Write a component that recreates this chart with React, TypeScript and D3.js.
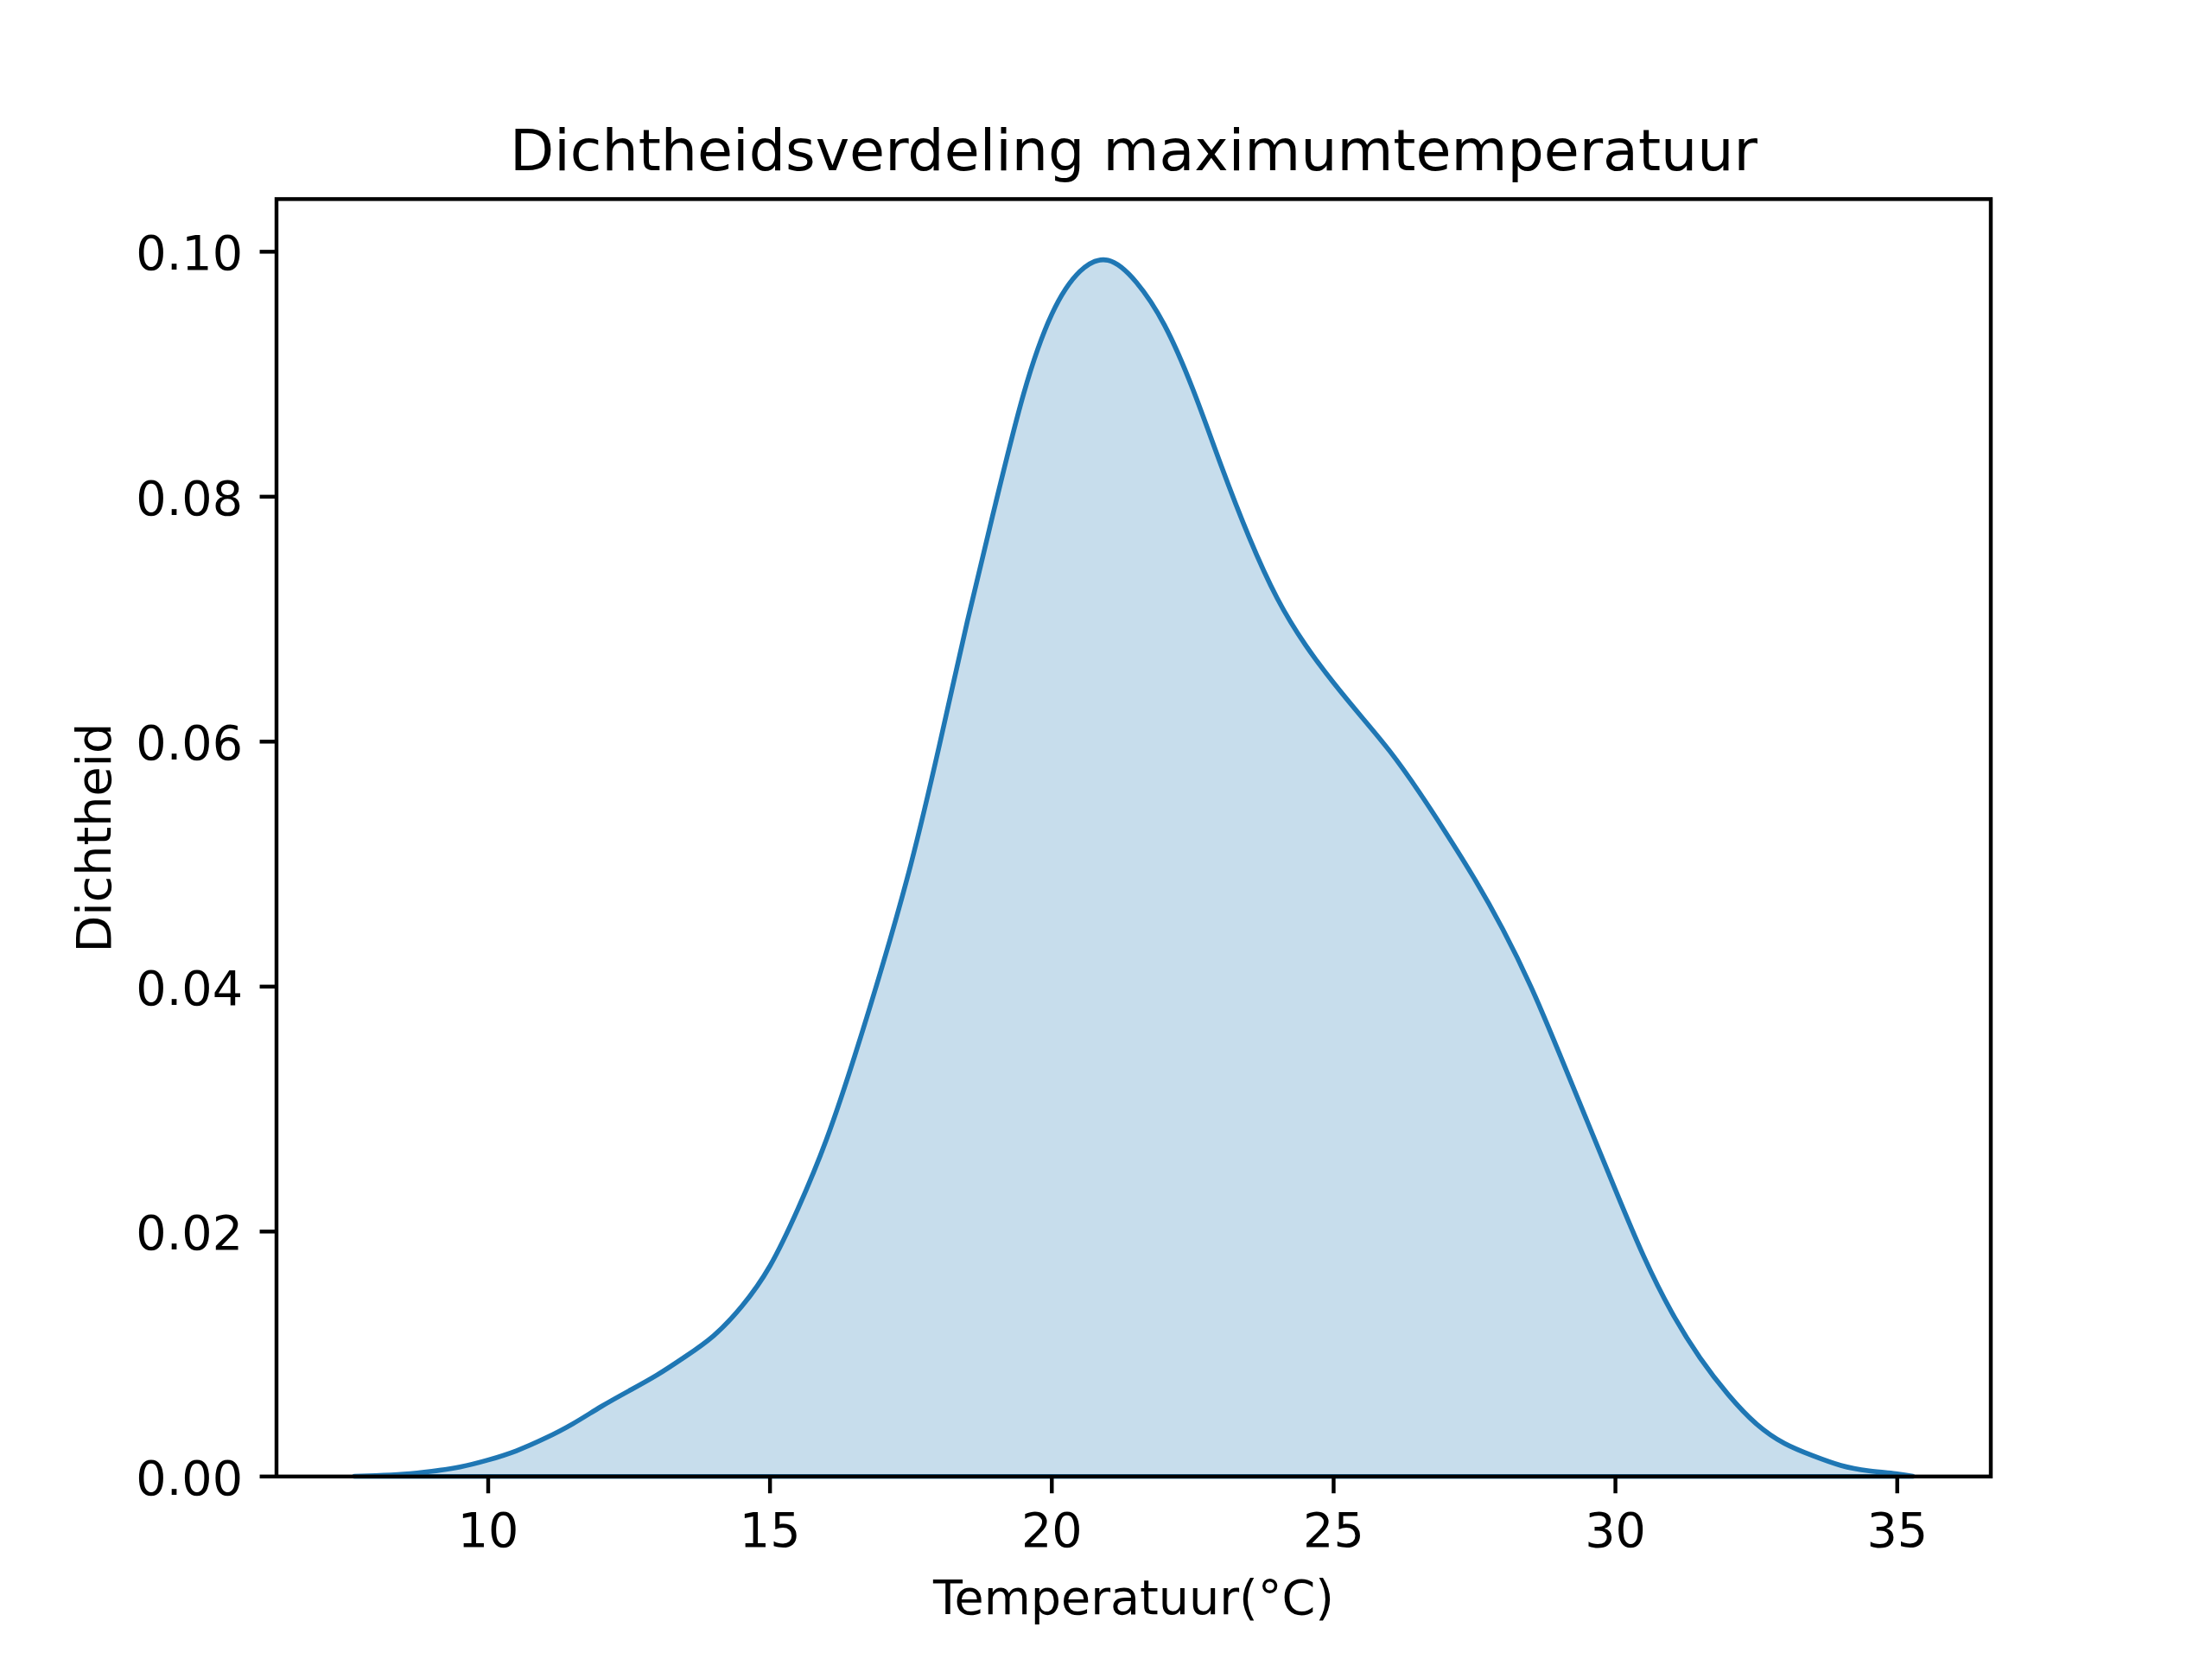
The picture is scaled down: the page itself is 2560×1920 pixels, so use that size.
import React from "react";
import * as d3 from "d3";

// Kernel density curve (temperature °C -> density)
const temps = [
  7.627, 8.0, 8.5, 9.0, 9.5, 10.0, 10.5, 11.0, 11.5, 12.0, 12.5, 13.0, 13.5, 14.0,
  14.5, 15.0, 15.5, 16.0, 16.5, 17.0, 17.5, 18.0, 18.5, 19.0, 19.5, 20.0, 20.5,
  21.0, 21.5, 22.0, 22.5, 23.0, 23.5, 24.0, 24.5, 25.0, 25.5, 26.0, 26.5, 27.0,
  27.5, 28.0, 28.5, 29.0, 29.5, 30.0, 30.5, 31.0, 31.5, 32.0, 32.5, 33.0, 33.5,
  34.0, 34.5, 35.0, 35.278,
];
const densities = [
  0.00002, 0.00008, 0.0002, 0.00043, 0.00078, 0.00135, 0.0021, 0.0031, 0.0043,
  0.0057, 0.007, 0.0083, 0.0098, 0.0115, 0.0139, 0.0172, 0.0219, 0.0275, 0.0343,
  0.0418, 0.05, 0.0596, 0.0698, 0.0794, 0.0884, 0.0949, 0.0984, 0.0993, 0.0975,
  0.094, 0.0888, 0.0826, 0.0767, 0.0717, 0.0679, 0.0648, 0.062, 0.0592, 0.056,
  0.0525, 0.0488, 0.0447, 0.04, 0.0346, 0.029, 0.0234, 0.018, 0.0134, 0.0097,
  0.0067, 0.0043, 0.0027, 0.0017, 0.0009, 0.00046, 0.00022, 0.00003,
];

const xTicks = [10, 15, 20, 25, 30, 35];
const yTicks = [0, 0.02, 0.04, 0.06, 0.08, 0.1];

const titleText = "Dichtheidsverdeling maximumtemperatuur";
const xLabel = "Temperatuur(°C)";
const yLabel = "Dichtheid";

const W = 2560;
const H = 1920;
const left = 320;
const right = 2304;
const top = 230.4;
const bottom = 1708.8;
const font = "'DejaVu Sans', sans-serif";
const fs = 55.56;
const lw = 4.44;
const tickLen = 19.44;
const color = "#1f77b4";

export default function App() {
  const x = d3.scaleLinear().domain([6.244, 36.66]).range([left, right]);
  const y = d3.scaleLinear().domain([0, 0.1043]).range([bottom, top]);

  const pts = temps.map((t, i) => [t, densities[i]] as [number, number]);
  const area = d3
    .area<[number, number]>()
    .x((d) => x(d[0]))
    .y0(() => y(0))
    .y1((d) => y(d[1]))
    .curve(d3.curveNatural);

  const fmt = d3.format(".2f");

  return (
    <svg
      width={W}
      height={H}
      viewBox={`0 0 ${W} ${H}`}
      style={{ position: "absolute", left: 0, top: 0, display: "block", background: "#fff" }}
    >
      <rect x={0} y={0} width={W} height={H} fill="#fff" />
      <defs>
        <clipPath id="plotclip">
          <rect x={left} y={top} width={right - left} height={bottom - top + 3} />
        </clipPath>
      </defs>
      <path
        d={area(pts) || ""}
        fill={color}
        fillOpacity={0.25}
        stroke={color}
        strokeWidth={5.56}
        strokeLinejoin="round"
        clipPath="url(#plotclip)"
      />
      {/* spines */}
      <rect
        x={left}
        y={top}
        width={right - left}
        height={bottom - top}
        fill="none"
        stroke="#000"
        strokeWidth={lw}
        strokeLinejoin="miter"
      />
      {/* x ticks */}
      {xTicks.map((t) => (
        <g key={"x" + t}>
          <line x1={x(t)} x2={x(t)} y1={bottom} y2={bottom + tickLen} stroke="#000" strokeWidth={lw} />
          <text
            x={x(t)}
            y={1790}
            textAnchor="middle"
            fontFamily={font}
            fontSize={fs}
            fill="#000"
          >
            {t}
          </text>
        </g>
      ))}
      {/* y ticks */}
      {yTicks.map((t) => (
        <g key={"y" + t}>
          <line x1={left - tickLen} x2={left} y1={y(t)} y2={y(t)} stroke="#000" strokeWidth={lw} />
          <text
            x={281}
            y={y(t) + 21}
            textAnchor="end"
            fontFamily={font}
            fontSize={fs}
            fill="#000"
          >
            {fmt(t)}
          </text>
        </g>
      ))}
      <text
        x={(left + right) / 2}
        y={197}
        textAnchor="middle"
        fontFamily={font}
        fontSize={66.67}
        fill="#000"
      >
        {titleText}
      </text>
      <text
        x={(left + right) / 2}
        y={1868}
        textAnchor="middle"
        fontFamily={font}
        fontSize={fs}
        fill="#000"
      >
        {xLabel}
      </text>
      <text
        transform={`translate(128, ${(top + bottom) / 2}) rotate(-90)`}
        textAnchor="middle"
        fontFamily={font}
        fontSize={fs}
        fill="#000"
      >
        {yLabel}
      </text>
    </svg>
  );
}
